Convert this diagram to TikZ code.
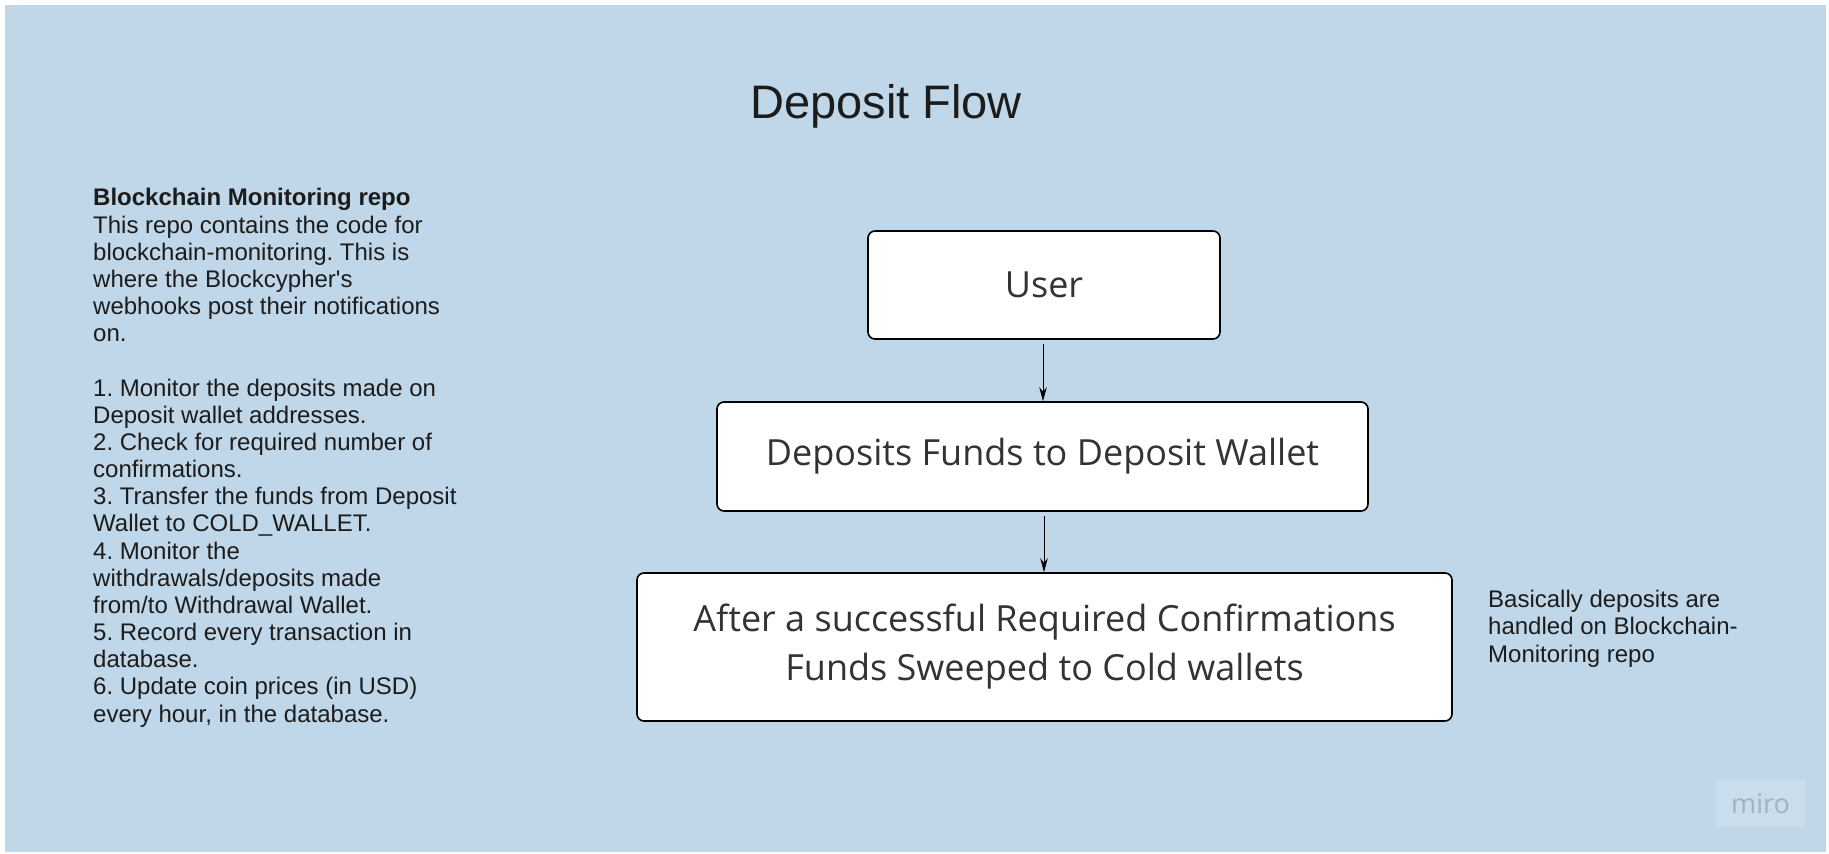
\documentclass[tikz,border=0pt]{standalone}
\usepackage{fontspec}
\setmainfont{Liberation Sans}
\newfontfamily\osans{Open Sans}
\usetikzlibrary{arrows.meta}
\frenchspacing
\definecolor{bgblue}{HTML}{BFD7E8}
\definecolor{txt}{HTML}{1C1C1C}
\definecolor{boxtxt}{HTML}{333333}
\definecolor{mirobox}{HTML}{C9DDEC}
\definecolor{mirotxt}{HTML}{A2B2C1}
\tikzset{
  flowbox/.style={draw=black, line width=1.6pt, rounded corners=7pt, fill=white, align=center, text=boxtxt,
    font=\osans\fontsize{36}{49}\selectfont, inner sep=0pt},
  flowarrow/.style={draw=black, line width=0.9pt, -{Stealth[length=14pt,width=7.5pt]}, shorten <=4pt},
  sidetext/.style={align=left, text=txt, font=\fontsize{24}{27.16}\selectfont, inner sep=0pt, anchor=base west}
}
\begin{document}
\begin{tikzpicture}[x=1pt,y=-1pt]
\useasboundingbox (0,0) rectangle (1829,854);
\fill[white] (0,0) rectangle (1829,854);
\fill[bgblue] (5,5) rectangle (1826,852);
\node[font=\fontsize{47}{54}\selectfont, text=txt, anchor=base, inner sep=0pt] (title) at (886,118) {Deposit Flow};
\node[flowbox, minimum width=352pt, minimum height=108pt] (user) at (1044,285) {User};
\node[flowbox, minimum width=651pt, minimum height=109pt] (dep) at (1042.5,456.5) {Deposits Funds to Deposit Wallet};
\node[flowbox, minimum width=815pt, minimum height=148pt] (after) at (1044.5,647) {After a successful Required Confirmations\\Funds Sweeped to Cold wallets};
\coordinate (a1) at (1043,0);
\coordinate (a2) at (1044,0);
\draw[flowarrow] (a1 |- user.south) -- (a1 |- dep.north);
\draw[flowarrow] (a2 |- dep.south) -- (a2 |- after.north);
\node[sidetext] (repo) at (93,722) {\textbf{Blockchain Monitoring repo}\\
This repo contains the code for\\
blockchain-monitoring. This is\\
where the Blockcypher\textquotesingle s\\
webhooks post their notifications\\
on.\\[27.16pt]
1. Monitor the deposits made on\\
Deposit wallet addresses.\\
2. Check for required number of\\
confirmations.\\
3. Transfer the funds from Deposit\\
Wallet to COLD\_WALLET.\\
4. Monitor the\\
withdrawals/deposits made\\
from/to Withdrawal Wallet.\\
5. Record every transaction in\\
database.\\
6. Update coin prices (in USD)\\
every hour, in the database.};
\node[sidetext] (note) at (1488,662) {Basically deposits are\\
handled on Blockchain-\\
Monitoring repo};
\node[fill=mirobox, minimum width=89pt, minimum height=47pt, inner sep=0pt, text=mirotxt,
  font=\osans\fontsize{27}{30}\selectfont] (miro) at (1760.5,803.5) {miro};
\end{tikzpicture}
\end{document}
